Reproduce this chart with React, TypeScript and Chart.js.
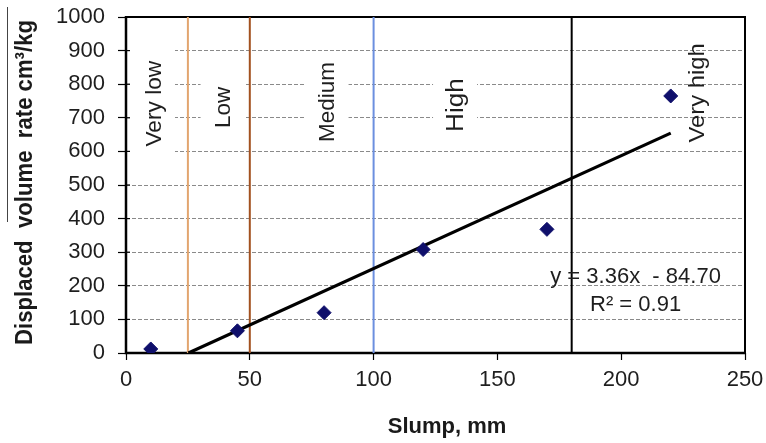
import React, { useEffect, useRef } from 'react';
import { Chart, registerables } from 'chart.js';

Chart.register(...registerables);

// ---- data ----
const slumpMm = [10, 45, 80, 120, 170, 220];
const displacedVolume = [12, 66, 120, 308, 368, 765];

// trend line end points (y = 3.36x - 84.70)
const trendX = [25.2, 220];
const trendY = [0, 654.5];

// class boundaries on the slump axis
const boundaryX = [25, 50, 100, 180];

// zone labels and their (data) centres
const zoneNames = ['Very low', 'Low', 'Medium', 'High', 'Very high'];
const zoneX = [10.9, 39.0, 81.0, 132.9, 230.2];
const zoneY = [742, 731, 747, 738, 774];

// regression annotation
const equationLines = ['y = 3.36x  - 84.70', 'R\u00B2 = 0.91'];
const equationX = 205.8;
const equationBaseY = [207, 125];

const xTicks = [0, 50, 100, 150, 200, 250];
const yTicks = [0, 100, 200, 300, 400, 500, 600, 700, 800, 900, 1000];

const xTitle = 'Slump, mm';
const yTitle = 'Displaced  volume  rate cm\u00B3/kg';

// ---- styles ----
const FONT = '"Liberation Sans", Arial, Helvetica, sans-serif';
const boundaryColors = ['#E2A56F', '#A2511F', '#6C8FDF', '#000000'];
const zoneStyle = [
  { size: 22, stretch: 1.03, box: true, padY: 12 },
  { size: 22, stretch: 1.02, box: true, padY: 8 },
  { size: 22, stretch: 1.02, box: true, padY: 8 },
  { size: 23, stretch: 1.14, box: true, padY: 8 },
  { size: 22, stretch: 1.08, box: false, padY: 0 },
];

const overlayPlugin = {
  id: 'overlay',
  beforeDatasetsDraw(chart: any) {
    const { ctx, chartArea: a, scales } = chart;
    const xs = scales.x;
    const ys = scales.y;
    ctx.save();
    // white boxes behind zone labels
    zoneNames.forEach((name: string, i: number) => {
      const st = zoneStyle[i];
      if (!st.box) return;
      ctx.font = `${st.size}px ${FONT}`;
      const len = ctx.measureText(name).width * st.stretch;
      const cx = xs.getPixelForValue(zoneX[i]);
      const cy = ys.getPixelForValue(zoneY[i]);
      let left = cx - 22;
      const right = cx + 22;
      if (left < a.left + 1) left = a.left + 1;
      const top = cy - len / 2 - st.padY;
      const bottom = cy + len / 2 + st.padY;
      ctx.fillStyle = '#ffffff';
      ctx.fillRect(left, top, right - left, bottom - top);
    });
    // plot frame
    ctx.strokeStyle = '#000000';
    ctx.lineWidth = 2;
    ctx.beginPath();
    ctx.moveTo(a.left, a.top);
    ctx.lineTo(a.right, a.top);
    ctx.lineTo(a.right, a.bottom);
    ctx.stroke();
    ctx.lineWidth = 2.5;
    ctx.beginPath();
    ctx.moveTo(a.left, a.top - 1);
    ctx.lineTo(a.left, a.bottom);
    ctx.lineTo(a.right + 1, a.bottom);
    ctx.stroke();
    // small inner tick parts on the y axis
    ctx.lineWidth = 1.2;
    yTicks.forEach((v) => {
      const py = ys.getPixelForValue(v);
      ctx.beginPath();
      ctx.moveTo(a.left, py);
      ctx.lineTo(a.left + 4, py);
      ctx.stroke();
    });
    // zone labels (rotated)
    zoneNames.forEach((name: string, i: number) => {
      const st = zoneStyle[i];
      ctx.font = `${st.size}px ${FONT}`;
      const cx = xs.getPixelForValue(zoneX[i]);
      const cy = ys.getPixelForValue(zoneY[i]);
      const capH = st.size * 0.716;
      ctx.save();
      ctx.translate(cx, cy);
      ctx.rotate(-Math.PI / 2);
      ctx.scale(st.stretch, 1);
      ctx.textAlign = 'center';
      ctx.textBaseline = 'alphabetic';
      ctx.fillStyle = '#1e1e1e';
      ctx.fillText(name, 0, capH / 2);
      ctx.restore();
    });
    ctx.restore();
  },
  afterDatasetsDraw(chart: any) {
    const { ctx, scales } = chart;
    const xs = scales.x;
    const ys = scales.y;
    ctx.save();
    ctx.font = `22px ${FONT}`;
    ctx.fillStyle = '#1e1e1e';
    ctx.textAlign = 'center';
    ctx.textBaseline = 'alphabetic';
    equationLines.forEach((line, i) => {
      ctx.fillText(line, xs.getPixelForValue(equationX), ys.getPixelForValue(equationBaseY[i]));
    });
    ctx.restore();
  },
  afterDraw(chart: any) {
    const { ctx } = chart;
    ctx.save();
    ctx.fillStyle = '#1a1a1a';
    // x title
    ctx.font = `bold 22px ${FONT}`;
    ctx.textAlign = 'center';
    ctx.textBaseline = 'alphabetic';
    ctx.fillText(xTitle, 447, 433);
    // y title (rotated, fitted to length)
    ctx.font = `bold 24px ${FONT}`;
    const w = ctx.measureText(yTitle).width;
    const sx = 325 / w;
    ctx.translate(32, 182.5);
    ctx.rotate(-Math.PI / 2);
    ctx.scale(sx, 1);
    ctx.fillText(yTitle, 0, 0);
    ctx.restore();
    // overline on the y title
    ctx.save();
    ctx.strokeStyle = '#444444';
    ctx.lineWidth = 1;
    ctx.beginPath();
    ctx.moveTo(7.5, 7);
    ctx.lineTo(7.5, 222);
    ctx.stroke();
    ctx.restore();
  },
};

export default function App() {
  const canvasRef = useRef<HTMLCanvasElement | null>(null);

  useEffect(() => {
    const canvas = canvasRef.current;
    if (!canvas) return;

    const boundaryDatasets = boundaryX.map((bx, i) => ({
      type: 'scatter' as const,
      label: `boundary ${bx}`,
      data: [
        { x: bx, y: yTicks[0] },
        { x: bx, y: yTicks[yTicks.length - 1] },
      ],
      showLine: true,
      borderColor: boundaryColors[i],
      borderWidth: 2,
      pointRadius: 0,
      fill: false,
    }));

    const chart = new Chart(canvas, {
      type: 'scatter',
      data: {
        datasets: [
          {
            label: 'Measured',
            data: slumpMm.map((s, i) => ({ x: s, y: displacedVolume[i] })),
            pointStyle: 'rectRot',
            pointRadius: 7,
            pointBackgroundColor: '#0f0f6b',
            pointBorderColor: '#0f0f6b',
            pointBorderWidth: 1,
            showLine: false,
          },
          {
            label: 'Trend',
            data: trendX.map((tx, i) => ({ x: tx, y: trendY[i] })),
            showLine: true,
            borderColor: '#000000',
            borderWidth: 3.2,
            pointRadius: 0,
            fill: false,
          },
          ...boundaryDatasets,
        ],
      },
      options: {
        responsive: false,
        animation: false,
        layout: { autoPadding: false, padding: { top: 17, right: 21, left: 0, bottom: 0 } },
        plugins: {
          legend: { display: false },
          tooltip: { enabled: false },
          title: { display: false },
        },
        scales: {
          x: {
            type: 'linear',
            min: xTicks[0],
            max: xTicks[xTicks.length - 1],
            afterBuildTicks: (scale: any) => {
              scale.ticks = xTicks.map((v) => ({ value: v }));
            },
            afterFit: (scale: any) => {
              scale.height = 90;
              scale.paddingLeft = 0;
              scale.paddingRight = 0;
              scale.paddingTop = 0;
              scale.paddingBottom = 0;
            },
            border: { display: false },
            grid: {
              drawOnChartArea: false,
              drawTicks: true,
              tickLength: 7,
              color: 'rgba(0,0,0,0)',
              tickColor: '#000000',
              tickWidth: 1.2,
            },
            ticks: {
              padding: 7,
              color: '#1e1e1e',
              font: { family: FONT, size: 22 },
              maxRotation: 0,
              callback: (v: any) => String(v),
            },
          },
          y: {
            type: 'linear',
            min: yTicks[0],
            max: yTicks[yTicks.length - 1],
            afterBuildTicks: (scale: any) => {
              scale.ticks = yTicks.map((v) => ({ value: v }));
            },
            afterFit: (scale: any) => {
              scale.width = 126;
              scale.paddingLeft = 0;
              scale.paddingRight = 0;
              scale.paddingTop = 0;
              scale.paddingBottom = 0;
            },
            border: { display: false, dash: [4, 2] },
            grid: {
              drawOnChartArea: true,
              drawTicks: true,
              tickLength: 8,
              lineWidth: 1,
              color: (c: any) =>
                c.tick && (c.tick.value === yTicks[0] || c.tick.value === yTicks[yTicks.length - 1])
                  ? 'rgba(0,0,0,0)'
                  : '#8a8a8a',
              tickColor: '#000000',
              tickWidth: 1.2,
              tickBorderDash: [],
            },
            ticks: {
              padding: 13,
              color: '#1e1e1e',
              font: { family: FONT, size: 22 },
              callback: (v: any) => String(v),
            },
          },
        },
      },
      plugins: [overlayPlugin],
    } as any);

    return () => {
      chart.destroy();
    };
  }, []);

  return (
    <div style={{ position: 'fixed', left: 0, top: 0, width: 766, height: 443, background: '#ffffff' }}>
      <canvas ref={canvasRef} width={766} height={443} style={{ display: 'block' }} />
    </div>
  );
}
